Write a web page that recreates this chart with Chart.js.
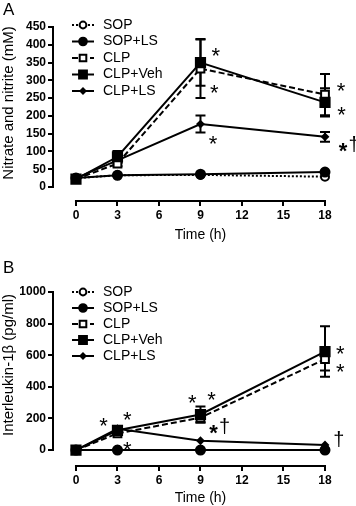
<!DOCTYPE html>
<html>
<head>
<meta charset="UTF-8">
<script src="https://cdn.jsdelivr.net/npm/chart.js@4.4.0/dist/chart.umd.min.js"></script>
<style>
  body { margin: 0; background: #fff; }
  .panel { position: absolute; left: 0; width: 356px; }
  #wrapA { top: 0; height: 250px; }
  #wrapB { top: 250px; height: 256px; }
</style>
</head>
<body>
<div class="panel" id="wrapA"><canvas id="chartA"></canvas></div>
<div class="panel" id="wrapB"><canvas id="chartB"></canvas></div>
<script>
const hours = [0, 3, 9, 18];
const xTicks = [0, 3, 6, 9, 12, 15, 18];
const seriesNames = ['SOP', 'SOP+LS', 'CLP', 'CLP+Veh', 'CLP+LS'];

// A: nitrate and nitrite (mM)
const noTicks = [0, 50, 100, 150, 200, 250, 300, 350, 400, 450];
const noSop = [25, 33, 34, 29];
const noSopLs = [25, 33, 36, 42];
const noClp = [22, 66, 333, 260];
const noClpErr = [0, 8, 83, 58];
const noClpVeh = [22, 85, 350, 238];
const noClpVehErr = [0, 16, 65, 40];
const noClpLs = [25, 75, 177, 141];
const noClpLsErr = [0, 6, 24, 14];
const noSigns = [
  { x: 10.1, y: 385, t: '*' }, { x: 10.0, y: 281, t: '*' }, { x: 9.9, y: 138, t: '*' },
  { x: 19.15, y: 287, t: '*' }, { x: 19.2, y: 219, t: '*' }, { x: 19.3, y: 118, t: '*†' }
];

// B: interleukin-1beta (pg/ml)
const ilTicks = [0, 200, 400, 600, 800, 1000];
const ilSop = [0, 0, 0, 0];
const ilSopLs = [0, 0, 0, 0];
const ilClp = [0, 105, 205, 575];
const ilClpErr = [0, 0, 30, 72];
const ilClpVeh = [0, 125, 225, 623];
const ilClpVehErr = [0, 0, 50, 160];
const ilClpLs = [0, 135, 59, 32];
const ilSigns = [
  { x: 2.0, y: 190, t: '*' }, { x: 3.7, y: 228, t: '*' }, { x: 3.7, y: 38, t: '*' },
  { x: 8.4, y: 335, t: '*' }, { x: 9.8, y: 354, t: '*' }, { x: 9.95, y: 146, t: '*†' },
  { x: 19.1, y: 645, t: '*' }, { x: 19.1, y: 530, t: '*' }, { x: 19.0, y: 63, t: '†' }
];

const FONT = "'Liberation Sans', Arial, Helvetica, sans-serif";
// drawing order: lower "order" is painted on top
const styles = [
  { dash: [2, 2], pointStyle: 'circle', radius: 4, fill: '#fff', order: 4 },
  { dash: [], pointStyle: 'circle', radius: 4.5, fill: '#000', order: 1 },
  { dash: [6, 3], pointStyle: 'rect', radius: 5.5, fill: '#fff', order: 2 },
  { dash: [], pointStyle: 'rect', radius: 6.5, fill: '#000', order: 0 },
  { dash: [], pointStyle: 'rectRot', radius: 3, fill: '#000', order: 3 }
];

function makeDatasets(series, errs) {
  return series.map((vals, k) => ({
    label: seriesNames[k],
    data: hours.map((h, i) => ({ x: h, y: vals[i] })),
    err: errs[k],
    order: styles[k].order,
    borderColor: '#000',
    borderWidth: 2,
    borderDash: styles[k].dash,
    pointStyle: styles[k].pointStyle,
    pointRadius: styles[k].radius,
    pointHoverRadius: styles[k].radius,
    pointBackgroundColor: styles[k].fill,
    pointBorderColor: '#000',
    pointBorderWidth: 2,
    tension: 0,
    clip: false
  }));
}

function drawSign(ctx, x, y, t) {
  ctx.fillStyle = '#000';
  ctx.textAlign = 'center';
  ctx.textBaseline = 'alphabetic';
  if (t === '*') {
    ctx.font = '22px ' + FONT;
    ctx.fillText('*', x, y + 13);
  } else if (t === '*†') {
    ctx.font = 'bold 22px ' + FONT;
    ctx.fillText('*', x, y + 13);
    ctx.font = '20px ' + FONT;
    ctx.fillText('†', x + 11, y + 6);
  } else {
    ctx.font = '20px ' + FONT;
    ctx.fillText('†', x, y + 6);
  }
}

function panelPlugin(p) {
  return {
    id: 'panel' + p.letter,
    beforeDatasetsDraw(chart) {
      const ctx = chart.ctx, ys = chart.scales.y;
      ctx.save();
      ctx.strokeStyle = '#000';
      ctx.lineWidth = 2;
      ctx.setLineDash([]);
      chart.data.datasets.forEach((ds, k) => {
        if (!ds.err) return;
        const meta = chart.getDatasetMeta(k);
        ds.err.forEach((e, i) => {
          if (!e) return;
          const v = ds.data[i].y;
          const px = meta.data[i].x;
          const top = ys.getPixelForValue(v + e), bot = ys.getPixelForValue(v - e);
          ctx.beginPath();
          ctx.moveTo(px, top); ctx.lineTo(px, bot);
          ctx.moveTo(px - 5, top); ctx.lineTo(px + 5, top);
          ctx.moveTo(px - 5, bot); ctx.lineTo(px + 5, bot);
          ctx.stroke();
        });
      });
      ctx.restore();
    },
    afterDraw(chart) {
      const ctx = chart.ctx, xs = chart.scales.x, ys = chart.scales.y, area = chart.chartArea;
      ctx.save();
      // detached axis lines
      ctx.strokeStyle = '#000';
      ctx.lineWidth = 2;
      ctx.beginPath();
      ctx.moveTo(xs.getPixelForValue(0) - 1, area.bottom);
      ctx.lineTo(xs.getPixelForValue(18) + 1, area.bottom);
      ctx.moveTo(area.left, ys.getPixelForValue(p.yTicks[p.yTicks.length - 1]) - 1);
      ctx.lineTo(area.left, ys.getPixelForValue(0) + 1);
      ctx.stroke();

      // titles
      ctx.fillStyle = '#000';
      ctx.textAlign = 'center';
      ctx.textBaseline = 'middle';
      ctx.font = '14px ' + FONT;
      ctx.fillText('Time (h)', xs.getPixelForValue(9), p.xTitleY);
      ctx.save();
      ctx.translate(9, p.yTitleY);
      ctx.rotate(-Math.PI / 2);
      ctx.font = '15px ' + FONT;
      ctx.fillText(p.yTitle, 0, 0);
      ctx.restore();

      ctx.font = '17px ' + FONT;
      ctx.textAlign = 'left';
      ctx.fillText(p.letter, 3, p.letterY);

      // legend
      styles.forEach((s, k) => {
        const y = p.legendY + k * p.legendGap;
        ctx.strokeStyle = '#000';
        ctx.lineWidth = 2;
        ctx.setLineDash(s.dash);
        ctx.beginPath();
        ctx.moveTo(72, y); ctx.lineTo(94, y);
        ctx.stroke();
        ctx.setLineDash([]);
        ctx.fillStyle = s.fill;
        Chart.helpers.drawPoint(ctx, { pointStyle: s.pointStyle, radius: s.radius * 0.85, borderWidth: 2, rotation: 0 }, 83, y);
        ctx.fillStyle = '#000';
        ctx.font = '14px ' + FONT;
        ctx.textAlign = 'left';
        ctx.textBaseline = 'middle';
        ctx.fillText(seriesNames[k], 103, y);
      });

      // significance marks
      p.signs.forEach(s => drawSign(ctx, xs.getPixelForValue(s.x), ys.getPixelForValue(s.y), s.t));
      ctx.restore();
    }
  };
}

function makeChart(id, p) {
  const tickFont = { family: FONT, size: 12, weight: 'bold' };
  new Chart(document.getElementById(id), {
    type: 'line',
    data: { datasets: makeDatasets(p.series, p.errs) },
    options: {
      responsive: true,
      maintainAspectRatio: false,
      animation: false,
      events: [],
      layout: { padding: { top: p.padTop, right: 31, left: 0, bottom: 0 } },
      plugins: { legend: { display: false }, tooltip: { enabled: false } },
      scales: {
        x: {
          type: 'linear', min: -1.66, max: 18,
          afterBuildTicks: s => { s.ticks = xTicks.map(v => ({ value: v })); },
          afterFit: s => { s.height = p.xHeight; },
          grid: { drawOnChartArea: false, drawTicks: true, tickLength: 5, color: '#000', lineWidth: 2 },
          border: { display: false },
          ticks: { color: '#000', font: tickFont, padding: 2, maxRotation: 0, autoSkip: false, callback: v => String(v) }
        },
        y: {
          type: 'linear', min: p.yMin, max: p.yTicks[p.yTicks.length - 1],
          afterBuildTicks: s => { s.ticks = p.yTicks.map(v => ({ value: v })); },
          afterFit: s => { s.width = 53; },
          grid: { drawOnChartArea: false, drawTicks: true, tickLength: 5, color: '#000', lineWidth: 2 },
          border: { display: false },
          ticks: { color: '#000', font: tickFont, padding: 2, autoSkip: false, callback: v => String(v) }
        }
      }
    },
    plugins: [panelPlugin(p)]
  });
}

makeChart('chartA', {
  letter: 'A', letterY: 10,
  series: [noSop, noSopLs, noClp, noClpVeh, noClpLs],
  errs: [null, null, noClpErr, noClpVehErr, noClpLsErr],
  yTicks: noTicks, yMin: -39.4, padTop: 27, xHeight: 49,
  yTitle: 'Nitrate and nitrite (mM)', yTitleY: 103, xTitleY: 235,
  legendY: 25, legendGap: 16.5, signs: noSigns
});

makeChart('chartB', {
  letter: 'B', letterY: 18,
  series: [ilSop, ilSopLs, ilClp, ilClpVeh, ilClpLs],
  errs: [null, null, ilClpErr, ilClpVehErr, null],
  yTicks: ilTicks, yMin: -101, padTop: 42, xHeight: 40,
  yTitle: 'Interleukin-1β (pg/ml)', yTitleY: 115, xTitleY: 248,
  legendY: 42, legendGap: 16, signs: ilSigns
});
</script>
</body>
</html>
